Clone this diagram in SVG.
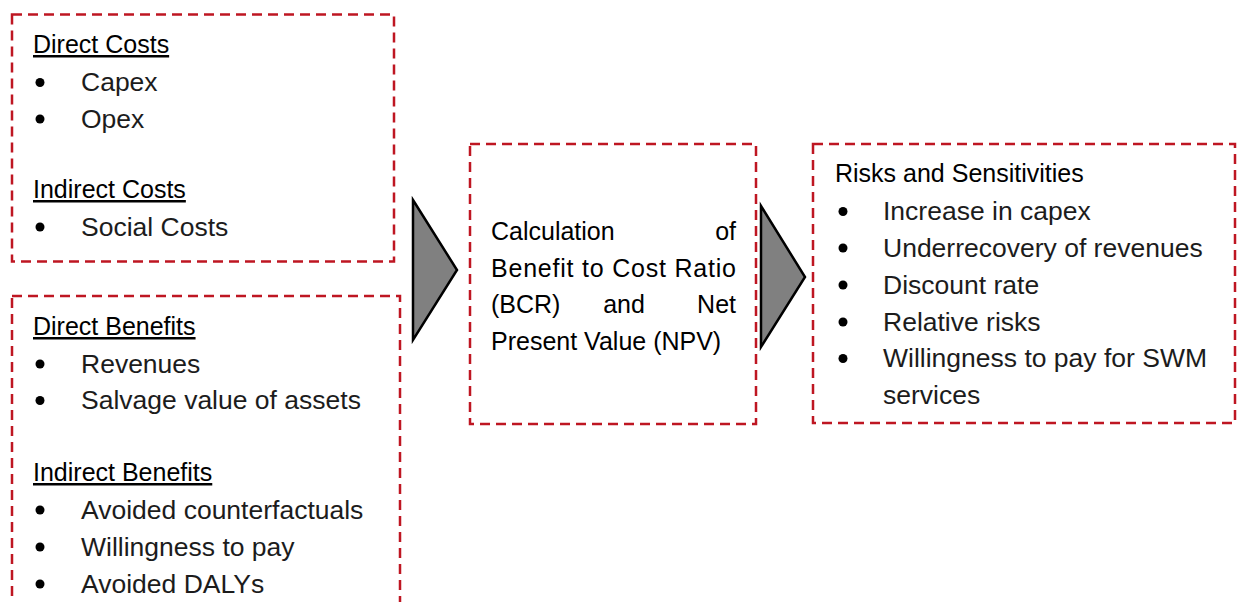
<svg xmlns="http://www.w3.org/2000/svg" width="1237" height="602" viewBox="0 0 1237 602">
<style>
.box{fill:none;stroke:#BE1622;stroke-width:2.5;stroke-dasharray:10 6}
.arrow{fill:#808080;stroke:#000;stroke-width:2.5;stroke-linejoin:miter}
text{font-family:"Liberation Sans",Arial,sans-serif;font-size:26.5px;fill:#1c1c1c}
.h{fill:#000;font-size:25px;text-decoration:underline}
.hn{fill:#000;font-size:25px}
.dot{fill:#000}
</style>
<rect width="1237" height="602" fill="#fff"/>
<g id="connectors">
<polygon class="arrow" points="413,200 457,270 413,340"/>
<polygon class="arrow" points="761,206 805,277 761,347"/>
</g>
<g id="costs">
<rect class="box" x="12" y="14.5" width="382" height="247"/>
<text class="h" x="33" y="53">Direct Costs</text>
<circle class="dot" cx="40" cy="82.5" r="4.5"/><text x="81" y="91">Capex</text>
<circle class="dot" cx="40" cy="119" r="4.5"/><text x="81" y="127.5">Opex</text>
<text class="h" x="33" y="198">Indirect Costs</text>
<circle class="dot" cx="40" cy="227" r="4.5"/><text x="81" y="235.5">Social Costs</text>
</g>
<g id="benefits">
<rect class="box" x="12" y="296" width="388" height="330"/>
<text class="h" x="33" y="335">Direct Benefits</text>
<circle class="dot" cx="40" cy="364" r="4.5"/><text x="81" y="372.5">Revenues</text>
<circle class="dot" cx="40" cy="400.5" r="4.5"/><text x="81" y="409">Salvage value of assets</text>
<text class="h" x="33" y="481">Indirect Benefits</text>
<circle class="dot" cx="40" cy="510" r="4.5"/><text x="81" y="518.5">Avoided counterfactuals</text>
<circle class="dot" cx="40" cy="547" r="4.5"/><text x="81" y="555.5">Willingness to pay</text>
<circle class="dot" cx="40" cy="584" r="4.5"/><text x="81" y="592.5">Avoided DALYs</text>
</g>
<g id="calculation">
<rect class="box" x="470" y="144" width="286" height="280"/>
<text class="hn" x="491" y="240">Calculation</text>
<text class="hn" x="736" y="240" text-anchor="end">of</text>
<text class="hn" x="491" y="277" textLength="245" lengthAdjust="spacing">Benefit to Cost Ratio</text>
<text class="hn" x="491" y="313">(BCR)</text>
<text class="hn" x="624" y="313" text-anchor="middle">and</text>
<text class="hn" x="736" y="313" text-anchor="end">Net</text>
<text class="hn" x="491" y="350">Present Value (NPV)</text>
</g>
<g id="risks">
<rect class="box" x="813" y="144" width="422" height="279"/>
<text class="hn" x="835" y="182">Risks and Sensitivities</text>
<circle class="dot" cx="843" cy="211.5" r="4.5"/><text x="883" y="220">Increase in capex</text>
<circle class="dot" cx="843" cy="248" r="4.5"/><text x="883" y="256.5">Underrecovery of revenues</text>
<circle class="dot" cx="843" cy="285" r="4.5"/><text x="883" y="293.5">Discount rate</text>
<circle class="dot" cx="843" cy="322" r="4.5"/><text x="883" y="330.5">Relative risks</text>
<circle class="dot" cx="843" cy="358.5" r="4.5"/><text x="883" y="367">Willingness to pay for SWM</text>
<text x="883" y="404">services</text>
</g>
</svg>
